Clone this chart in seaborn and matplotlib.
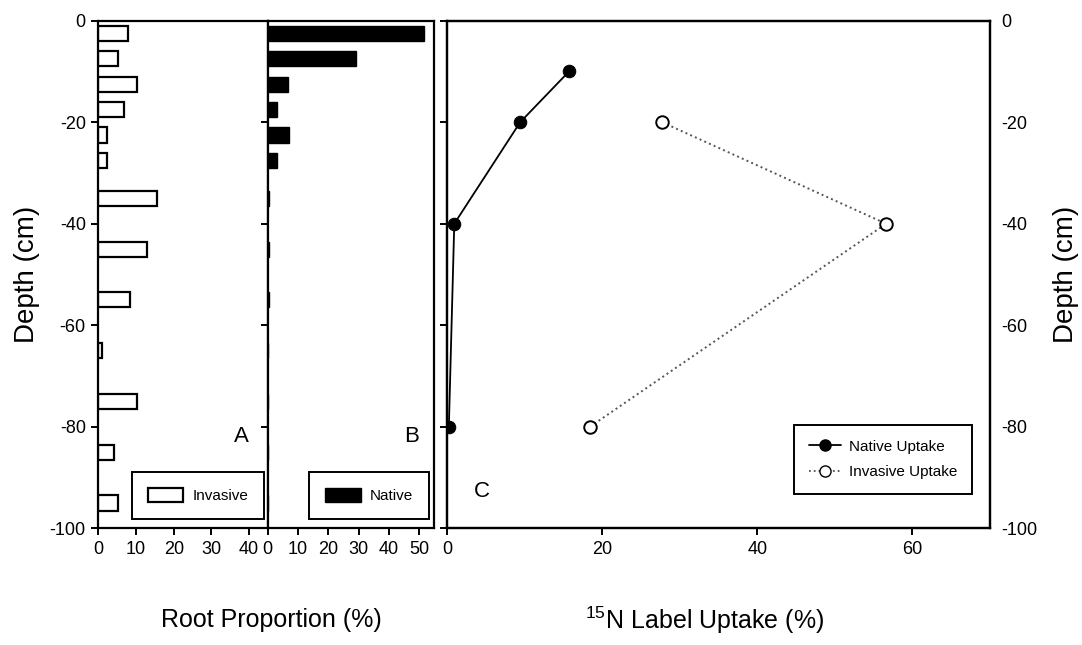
import matplotlib
matplotlib.use("Agg")
import matplotlib.pyplot as plt
from matplotlib.patches import Patch
from matplotlib.lines import Line2D
import seaborn as sns

# Root distribution by soil layer (layer mid-depth, cm)
depth_mid = [-2.5, -7.5, -12.5, -17.5, -22.5, -27.5, -35, -45, -55, -65, -75, -85, -95]
invasive_root = [7.8, 5.1, 10.2, 6.9, 2.4, 2.2, 15.6, 13.0, 8.3, 0.9, 10.2, 4.2, 5.1]
native_root = [51.5, 29.2, 6.8, 3.0, 7.0, 3.0, 0.4, 0.4, 0.4, 0.0, 0.0, 0.0, 0.0]

# 15N label uptake by injection depth
uptake_depth_native = [-10, -20, -40, -80]
native_uptake = [15.7, 9.4, 0.9, 0.2]
uptake_depth_invasive = [-20, -40, -80]
invasive_uptake = [27.7, 56.6, 18.4]

depth_ticks = [0, -20, -40, -60, -80, -100]
ticks_a = [0, 10, 20, 30, 40]
ticks_b = [0, 10, 20, 30, 40, 50]
ticks_c = [0, 20, 40, 60]

sns.set_theme(style="ticks")
plt.rcParams["font.family"] = ["Liberation Sans", "DejaVu Sans"]
plt.rcParams["mathtext.fontset"] = "custom"
plt.rcParams["mathtext.rm"] = "Liberation Sans"
plt.rcParams["mathtext.default"] = "rm"
plt.rcParams["axes.unicode_minus"] = False
plt.rcParams["axes.linewidth"] = 1.6
plt.rcParams["axes.edgecolor"] = "black"
plt.rcParams["axes.labelcolor"] = "black"
plt.rcParams["text.color"] = "black"

fig = plt.figure(figsize=(10.82, 6.45), dpi=100)
W, H = 1082, 645

def box(l, r, t, b):
    return [l / W, 1 - b / H, (r - l) / W, (b - t) / H]

axA = fig.add_axes(box(98.3, 268.0, 20.7, 528.3))
axB = fig.add_axes(box(267.7, 434.3, 20.7, 528.3))
axC = fig.add_axes(box(447.3, 990.0, 20.7, 528.3))

tick_kw = dict(direction="out", length=5, width=1.4, colors="black", labelsize=13, pad=4)
leg_kw = dict(loc="lower right", borderaxespad=0, fancybox=False, edgecolor="black",
              framealpha=1, fontsize=11)

# Panel A: invasive roots
sns.barplot(x=invasive_root, y=depth_mid, orient="y", native_scale=True, width=0.6,
            color="white", edgecolor="black", linewidth=1.6, saturation=1, ax=axA)
axA.set_xlim(0, 45)
axA.set_ylim(-100, 0)
axA.set_xticks(ticks_a)
axA.set_yticks(depth_ticks)
axA.tick_params(**tick_kw)
axA.set_ylabel("Depth (cm)", fontsize=20, labelpad=7)
axA.set_xlabel("")
axA.text(38, -82, "A", fontsize=16, ha="center", va="center")
axA.legend(handles=[Patch(facecolor="white", edgecolor="black", linewidth=1.6, label="Invasive")],
           bbox_to_anchor=(0.978, 0.018), handlelength=2.3, handleheight=1.0,
           handletextpad=0.6, borderpad=1.05, **leg_kw)
axA.get_legend().get_frame().set_linewidth(1.4)

# Panel B: native roots
sns.barplot(x=native_root, y=depth_mid, orient="y", native_scale=True, width=0.6,
            color="black", edgecolor="black", linewidth=1.0, saturation=1, ax=axB)
axB.set_xlim(0, 55)
axB.set_ylim(-100, 0)
axB.set_xticks(ticks_b)
axB.set_yticks(depth_ticks)
axB.tick_params(**tick_kw)
axB.tick_params(axis="y", labelleft=False)
axB.set_ylabel("")
axB.set_xlabel("")
axB.text(47.4, -82, "B", fontsize=16, ha="center", va="center")
axB.legend(handles=[Patch(facecolor="black", edgecolor="black", label="Native")],
           bbox_to_anchor=(0.968, 0.018), handlelength=2.3, handleheight=1.0,
           handletextpad=0.6, borderpad=1.05, **leg_kw)
axB.get_legend().get_frame().set_linewidth(1.4)

# Panel C: label uptake
sns.lineplot(x=native_uptake, y=uptake_depth_native, sort=False, estimator=None,
             color="black", linewidth=1.3, marker="o", markersize=9,
             markerfacecolor="black", markeredgecolor="black", ax=axC)
sns.lineplot(x=invasive_uptake, y=uptake_depth_invasive, sort=False, estimator=None,
             color="#555555", linewidth=1.4, linestyle=":", marker="o", markersize=9,
             markerfacecolor="white", markeredgecolor="black", markeredgewidth=1.4, ax=axC)
axC.set_xlim(0, 70)
axC.set_ylim(-100, 0)
axC.set_xticks(ticks_c)
axC.set_yticks(depth_ticks)
axC.tick_params(**tick_kw)
axC.tick_params(axis="y", labelleft=False)
axC.set_xlabel("")
axC.set_ylabel("")
axC.text(4.5, -92.8, "C", fontsize=16, ha="center", va="center")
handles_c = [
    Line2D([], [], color="black", linewidth=1.3, marker="o", markersize=8,
           markerfacecolor="black", label="Native Uptake"),
    Line2D([], [], color="#555555", linewidth=1.3, linestyle=":", marker="o", markersize=8,
           markerfacecolor="white", markeredgecolor="black", label="Invasive Uptake"),
]
axC.legend(handles=handles_c, bbox_to_anchor=(0.966, 0.068), handlelength=2.1,
           handletextpad=0.5, borderpad=0.95, labelspacing=0.75, **leg_kw)
axC.get_legend().get_frame().set_linewidth(1.4)

axR = axC.twinx()
axR.set_ylim(-100, 0)
axR.set_yticks(depth_ticks)
axR.tick_params(axis="y", length=0, pad=8, labelsize=13, colors="black")
axR.set_ylabel("Depth (cm)", fontsize=20, labelpad=11, rotation=90)

for ax in (axA, axB, axC, axR):
    for s in ax.spines.values():
        s.set_linewidth(1.6)
        s.set_color("black")

fig.text(271 / W, 1 - 620 / H, "Root Proportion (%)", fontsize=18, ha="center", va="center")
fig.text(705 / W, 1 - 620 / H, r"$^{15}$N Label Uptake (%)", fontsize=18, ha="center", va="center")

fig.savefig("out.png", dpi=100, facecolor="white")
